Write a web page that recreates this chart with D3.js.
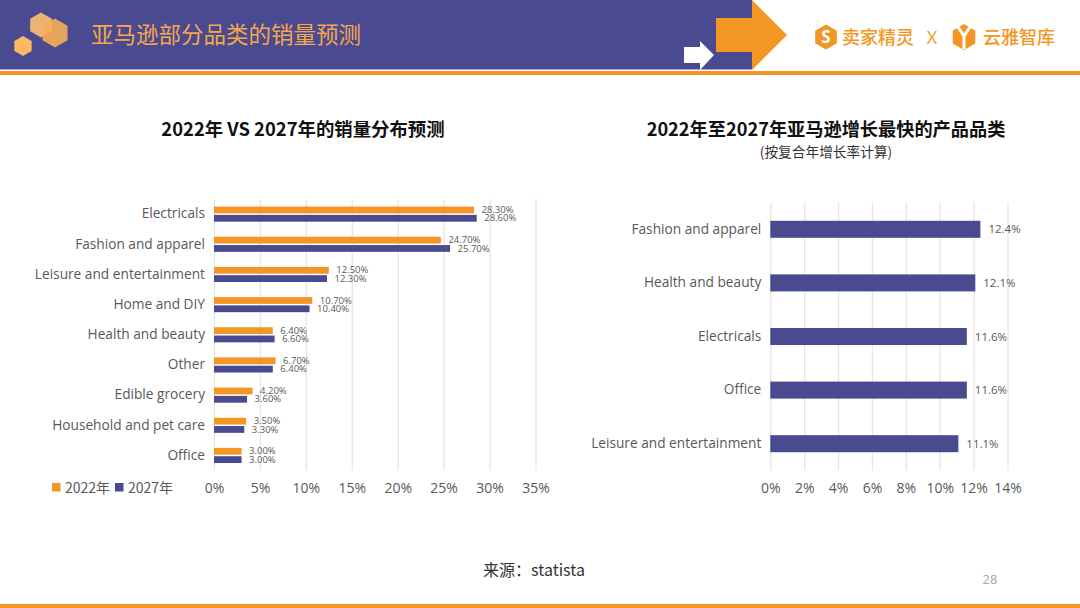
<!DOCTYPE html>
<html>
<head>
<meta charset="utf-8">
<script src="https://cdnjs.cloudflare.com/ajax/libs/d3/7.8.5/d3.min.js"></script>
<style>
  html, body { margin: 0; padding: 0; background: #fff; }
  svg { display: block; font-family: "Open Sans", "Noto Sans CJK SC", sans-serif; }
  .cn { font-family: "Noto Sans CJK SC", sans-serif; }
</style>
</head>
<body>
<div id="chart"></div>
<script>
var purple = '#4a4a90', orange = '#f39624', textGrey = '#595959', gridGrey = '#e6e6e6';

var leftCategories = ['Electricals', 'Fashion and apparel', 'Leisure and entertainment', 'Home and DIY',
  'Health and beauty', 'Other', 'Edible grocery', 'Household and pet care', 'Office'];
var values2022 = [28.3, 24.7, 12.5, 10.7, 6.4, 6.7, 4.2, 3.5, 3.0];
var values2027 = [28.6, 25.7, 12.3, 10.4, 6.6, 6.4, 3.6, 3.3, 3.0];
var leftTicks = [0, 5, 10, 15, 20, 25, 30, 35];

var rightCategories = ['Fashion and apparel', 'Health and beauty', 'Electricals', 'Office', 'Leisure and entertainment'];
var growthValues = [12.4, 12.1, 11.6, 11.6, 11.1];
var rightTicks = [0, 2, 4, 6, 8, 10, 12, 14];

var svg = d3.select('#chart').append('svg').attr('width', 1080).attr('height', 608);

// header
svg.append('rect').attr('width', 752).attr('height', 69).attr('fill', purple);
svg.append('rect').attr('y', 69).attr('width', 752).attr('height', 1).attr('fill', '#a9a9d0');
svg.append('rect').attr('y', 71).attr('width', 1080).attr('height', 4).attr('fill', orange);
svg.append('rect').attr('y', 604).attr('width', 1080).attr('height', 4).attr('fill', orange);

svg.append('path').attr('d', 'M716,18H752V0L787,35L752,70V52H716Z').attr('fill', orange);
svg.append('path').attr('d', 'M684,47H700V41L714,55L700,70V63H684Z').attr('fill', '#fff');

function hexagon(cx, cy, r) {
  var pts = d3.range(6).map(function(i) {
    var a = Math.PI / 3 * i - Math.PI / 2;
    return [cx + r * Math.cos(a), cy + r * Math.sin(a)];
  });
  return d3.line()(pts) + 'Z';
}
svg.append('path').attr('d', hexagon(41, 25, 12.5)).attr('fill', '#f3b873').attr('opacity', 0.95);
svg.append('path').attr('d', hexagon(55, 33, 14.5)).attr('fill', '#f7ad55').attr('opacity', 0.9);
svg.append('path').attr('d', hexagon(23, 46, 10)).attr('fill', '#fbb963');

svg.append('text').attr('class', 'cn').attr('x', 91).attr('y', 43)
  .attr('font-size', 22.5).attr('font-weight', 400).attr('fill', '#f5a74a').text('亚马逊部分品类的销量预测');

// logos
svg.append('path').attr('d', hexagon(826, 37, 12.5)).attr('fill', orange);
svg.append('text').attr('x', 826).attr('y', 43).attr('text-anchor', 'middle')
  .attr('font-size', 17).attr('font-weight', 700).attr('fill', '#fff').text('S');
svg.append('text').attr('class', 'cn').attr('x', 842).attr('y', 44).attr('font-size', 18)
  .attr('font-weight', 500).attr('fill', orange).text('卖家精灵');
svg.append('text').attr('x', 932).attr('y', 44).attr('text-anchor', 'middle').attr('font-size', 18)
  .attr('font-weight', 400).attr('fill', orange).text('X');
svg.append('path').attr('d', hexagon(964, 37, 13)).attr('fill', orange);
svg.append('path').attr('d', 'M958,27L964,36L970,27M964,36V49').attr('fill', 'none')
  .attr('stroke', '#fff').attr('stroke-width', 3);
svg.append('text').attr('class', 'cn').attr('x', 983).attr('y', 44).attr('font-size', 18)
  .attr('font-weight', 500).attr('fill', orange).text('云雅智库');

// titles
svg.append('text').attr('class', 'cn').attr('x', 303).attr('y', 136).attr('text-anchor', 'middle')
  .attr('font-size', 18.4).attr('font-weight', 700).attr('fill', '#111').text('2022年 VS 2027年的销量分布预测');
svg.append('text').attr('class', 'cn').attr('x', 826).attr('y', 136).attr('text-anchor', 'middle')
  .attr('font-size', 18.2).attr('font-weight', 700).attr('fill', '#111').text('2022年至2027年亚马逊增长最快的产品品类');
svg.append('text').attr('class', 'cn').attr('x', 826).attr('y', 157).attr('text-anchor', 'middle')
  .attr('font-size', 13.7).attr('fill', '#333').text('(按复合年增长率计算)');

function drawAxes(x, y, ticks) {
  var top = y.range()[0], bottom = y.range()[1];
  var xAxis = d3.axisBottom(x).tickValues(ticks).tickFormat(function(d) { return d + '%'; })
    .tickSize(bottom - top).tickPadding(13);
  var gx = svg.append('g').attr('transform', 'translate(0,' + top + ')').call(xAxis)
    .attr('font-family', null);
  gx.select('.domain').remove();
  gx.selectAll('line').attr('stroke', gridGrey).attr('stroke-width', 1.3);
  gx.selectAll('text').attr('font-size', 14).attr('fill', textGrey);

  var gy = svg.append('g').attr('transform', 'translate(' + x.range()[0] + ',0)')
    .call(d3.axisLeft(y).tickSize(0).tickPadding(9))
    .attr('font-family', null);
  gy.select('.domain').remove();
  gy.selectAll('text').attr('font-size', 13.7).attr('fill', textGrey);
}

// left chart
var x1 = d3.scaleLinear().domain([0, 35]).range([214, 535.5]);
var y1 = d3.scaleBand().domain(leftCategories).range([199, 470.5]);
drawAxes(x1, y1, leftTicks);

var offsets = y1.bandwidth();
[{ vals: values2022, color: orange, dy: -7.5 }, { vals: values2027, color: purple, dy: 0.8 }].forEach(function(s) {
  svg.append('g').selectAll('rect').data(leftCategories).join('rect')
    .attr('x', x1(0))
    .attr('y', function(d) { return y1(d) + offsets / 2 + s.dy; })
    .attr('width', function(d, i) { return x1(s.vals[i]) - x1(0); })
    .attr('height', 6.8)
    .attr('fill', s.color);
  svg.append('g').selectAll('text').data(leftCategories).join('text')
    .attr('x', function(d, i) { return x1(s.vals[i]) + 7.5; })
    .attr('y', function(d) { return y1(d) + offsets / 2 + s.dy + 6.5; })
    .attr('font-size', 9.5).attr('fill', textGrey)
    .text(function(d, i) { return s.vals[i].toFixed(2) + '%'; });
});

// legend
var legendItems = [{ label: '2022年', color: orange, x: 52 }, { label: '2027年', color: purple, x: 115 }];
legendItems.forEach(function(l) {
  svg.append('rect').attr('x', l.x).attr('y', 483).attr('width', 8.5).attr('height', 8.5).attr('fill', l.color);
  svg.append('text').attr('class', 'cn').attr('x', l.x + 13).attr('y', 492.5)
    .attr('font-size', 14).attr('fill', textGrey).text(l.label);
});

// right chart
var x2 = d3.scaleLinear().domain([0, 14]).range([770.3, 1007.5]);
var y2 = d3.scaleBand().domain(rightCategories).range([202.5, 470.5]);
drawAxes(x2, y2, rightTicks);

svg.append('g').selectAll('rect').data(rightCategories).join('rect')
  .attr('x', x2(0))
  .attr('y', function(d) { return y2(d) + y2.bandwidth() / 2 - 8.5; })
  .attr('width', function(d, i) { return x2(growthValues[i]) - x2(0); })
  .attr('height', 17)
  .attr('fill', purple);
svg.append('g').selectAll('text').data(rightCategories).join('text')
  .attr('x', function(d, i) { return x2(growthValues[i]) + 8; })
  .attr('y', function(d) { return y2(d) + y2.bandwidth() / 2 + 4; })
  .attr('font-size', 11.5).attr('fill', textGrey)
  .text(function(d, i) { return growthValues[i].toFixed(1) + '%'; });

// footer
svg.append('text').attr('class', 'cn').attr('x', 534).attr('y', 576).attr('text-anchor', 'middle')
  .attr('font-size', 16).attr('fill', '#333').text('来源：statista');
svg.append('text').attr('x', 990).attr('y', 584).attr('text-anchor', 'middle')
  .attr('font-size', 13).attr('fill', '#a6a6a6').text('28');
</script>
</body>
</html>
